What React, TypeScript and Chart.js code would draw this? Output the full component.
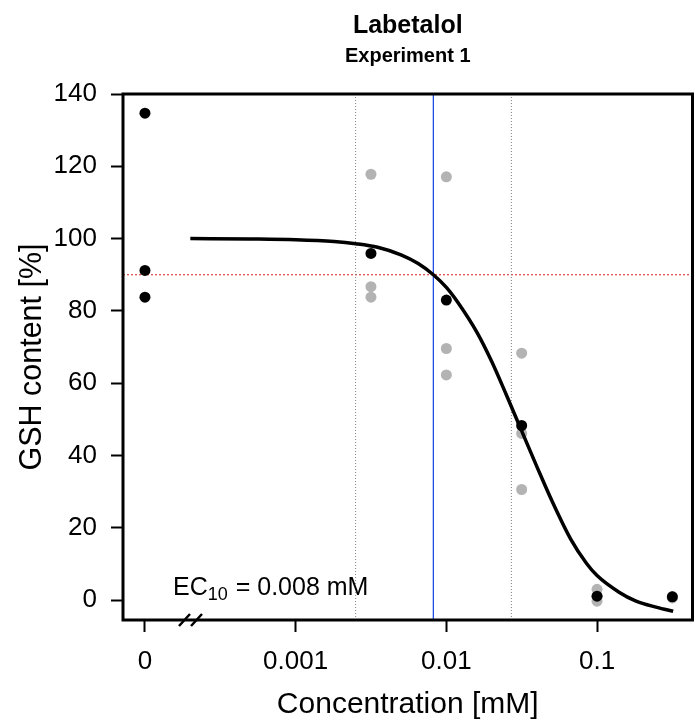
import { useEffect, useRef } from "react";
import { Chart, registerables } from "chart.js";

Chart.register(...registerables);

// ---- data ----
const ZERO_AT = 1e-4; // where the "0" concentration is drawn on the log axis

const meanConc = [0, 0, 0, 0.00316, 0.01, 0.0316, 0.1, 0.316];
const meanGsh = [134.7, 91.2, 83.8, 95.9, 83.0, 48.3, 1.1, 0.9];

const repConc = [0.00316, 0.00316, 0.00316, 0.01, 0.01, 0.01, 0.0316, 0.0316, 0.0316, 0.1, 0.1, 0.1, 0.316, 0.316];
const repGsh = [117.8, 86.7, 83.8, 117.1, 69.6, 62.3, 68.3, 46.1, 30.6, 3.0, -0.3, 1.0, 1.0, 0.6];

const curveConc = [0.0002, 0.0005, 0.001, 0.0018, 0.0025, 0.0035, 0.005, 0.0065, 0.0082, 0.01, 0.012, 0.016, 0.02, 0.025, 0.0316, 0.04, 0.05, 0.067, 0.085, 0.1, 0.14, 0.18, 0.25, 0.32];
const curveGsh = [100, 99.9, 99.7, 99.2, 98.6, 97.6, 95.5, 93.1, 90, 86.5, 82.2, 74, 66, 56.8, 46.8, 36.8, 27.6, 16.8, 10.2, 6.8, 2.2, -0.2, -2.0, -3.1];

const xTickValues = [1e-4, 1e-3, 1e-2, 1e-1];
const xTickLabels = ["0", "0.001", "0.01", "0.1"];
const yTickValues = [0, 20, 40, 60, 80, 100, 120, 140];

const ec10 = 0.0082;
const ciLow = 0.0025;
const ciHigh = 0.027;
const responseLevel = 90;

const xMin = 7.15e-5;
const xMax = 0.43;
const yMin = -5.5;
const yMax = 140;

const FONT = "'Liberation Sans', Arial, Helvetica, sans-serif";

const decorPlugin = {
  id: "decor",
  afterDraw(chart: any) {
    const { ctx, chartArea } = chart;
    const { left, right, top, bottom } = chartArea;
    ctx.save();
    // frame
    ctx.strokeStyle = "#000";
    ctx.lineWidth = 3;
    ctx.strokeRect(left, top, right - left, bottom - top);
    // axis break marks
    ctx.lineWidth = 2.5;
    ctx.lineCap = "butt";
    ctx.beginPath();
    ctx.moveTo(left + 56, bottom + 6);
    ctx.lineTo(left + 67, bottom - 6);
    ctx.moveTo(left + 68, bottom + 6);
    ctx.lineTo(left + 79, bottom - 6);
    ctx.stroke();
    // titles
    const cx = (left + right) / 2;
    ctx.fillStyle = "#000";
    ctx.textAlign = "center";
    ctx.textBaseline = "alphabetic";
    ctx.font = `bold 25px ${FONT}`;
    ctx.fillText("Labetalol", cx, 33);
    ctx.font = `bold 20px ${FONT}`;
    ctx.fillText("Experiment 1", cx, 62);
    // EC10 annotation
    ctx.textAlign = "left";
    let x = left + 50;
    const base = bottom - 25;
    ctx.font = `25px ${FONT}`;
    ctx.fillText("EC", x, base);
    x += ctx.measureText("EC").width;
    ctx.font = `18px ${FONT}`;
    ctx.fillText("10", x, base + 5);
    x += ctx.measureText("10").width + 1;
    ctx.font = `25px ${FONT}`;
    ctx.fillText(" = 0.008 mM", x, base);
    ctx.restore();
  },
};

export default function App() {
  const ref = useRef<HTMLCanvasElement | null>(null);

  useEffect(() => {
    const canvas = ref.current;
    if (!canvas) return;

    const vline = (v: number) => [
      { x: v, y: yMin },
      { x: v, y: yMax },
    ];

    const chart = new Chart(canvas, {
      type: "scatter",
      data: {
        datasets: [
          {
            label: "means",
            data: meanConc.map((c, i) => ({ x: c === 0 ? ZERO_AT : c, y: meanGsh[i] })),
            backgroundColor: "#000",
            borderColor: "#000",
            pointRadius: 5.5,
            pointBorderWidth: 0,
            showLine: false,
            order: 0,
          },
          {
            label: "fit",
            data: curveConc.map((c, i) => ({ x: c, y: curveGsh[i] })),
            showLine: true,
            borderColor: "#000",
            borderWidth: 3.5,
            pointRadius: 0,
            cubicInterpolationMode: "monotone",
            order: 1,
          },
          {
            label: "replicates",
            data: repConc.map((c, i) => ({ x: c, y: repGsh[i] })),
            backgroundColor: "#b3b3b3",
            borderColor: "#b3b3b3",
            pointRadius: 5.5,
            pointBorderWidth: 0,
            showLine: false,
            order: 2,
          },
          {
            label: "ec10",
            data: vline(ec10),
            showLine: true,
            borderColor: "#1f4fe8",
            borderWidth: 1.3,
            pointRadius: 0,
            order: 3,
          },
          {
            label: "ciLow",
            data: vline(ciLow),
            showLine: true,
            borderColor: "#808080",
            borderWidth: 1,
            borderDash: [1, 2],
            pointRadius: 0,
            order: 4,
          },
          {
            label: "ciHigh",
            data: vline(ciHigh),
            showLine: true,
            borderColor: "#808080",
            borderWidth: 1,
            borderDash: [1, 2],
            pointRadius: 0,
            order: 5,
          },
          {
            label: "level",
            data: [
              { x: xMin, y: responseLevel },
              { x: xMax, y: responseLevel },
            ],
            showLine: true,
            borderColor: "#d42020",
            borderWidth: 1,
            borderDash: [2, 2],
            pointRadius: 0,
            order: 6,
          },
        ],
      },
      options: {
        responsive: false,
        animation: false,
        events: [],
        layout: { padding: { top: 94, right: 3, left: 0, bottom: 0 } },
        plugins: {
          legend: { display: false },
          tooltip: { enabled: false },
          title: { display: false },
        },
        scales: {
          x: {
            type: "logarithmic",
            position: "bottom",
            min: xMin,
            max: xMax,
            bounds: "data",
            afterBuildTicks: (scale: any) => {
              scale.ticks = xTickValues.map((v) => ({ value: v }));
            },
            afterFit: (scale: any) => {
              scale.height = 103;
            },
            ticks: {
              autoSkip: false,
              maxRotation: 0,
              minRotation: 0,
              padding: 14,
              color: "#000",
              font: { family: FONT, size: 26 },
              callback: (_v: any, i: number) => xTickLabels[i],
            },
            grid: {
              display: true,
              drawOnChartArea: false,
              drawTicks: true,
              tickLength: 12,
              tickColor: "#000",
              tickWidth: 2,
            },
            border: { display: false },
            title: {
              display: true,
              text: "Concentration [mM]",
              color: "#000",
              font: { family: FONT, size: 30 },
              padding: { top: 0, bottom: 0 },
            },
          },
          y: {
            type: "linear",
            position: "left",
            min: yMin,
            max: yMax,
            bounds: "data",
            afterBuildTicks: (scale: any) => {
              scale.ticks = yTickValues.map((v) => ({ value: v }));
            },
            afterFit: (scale: any) => {
              scale.width = 123;
            },
            ticks: {
              padding: 14,
              color: "#000",
              font: { family: FONT, size: 26 },
            },
            grid: {
              display: true,
              drawOnChartArea: false,
              drawTicks: true,
              tickLength: 12,
              tickColor: "#000",
              tickWidth: 2,
            },
            border: { display: false },
            title: {
              display: true,
              text: "GSH content [%]",
              color: "#000",
              font: { family: FONT, size: 30.5 },
              padding: { top: 14, bottom: 0 },
            },
          },
        },
      },
      plugins: [decorPlugin],
    } as any);

    return () => chart.destroy();
  }, []);

  return (
    <div style={{ position: "absolute", left: 0, top: 0, width: 698, height: 723, background: "#fff" }}>
      <canvas ref={ref} width={698} height={723} style={{ display: "block" }} />
    </div>
  );
}
